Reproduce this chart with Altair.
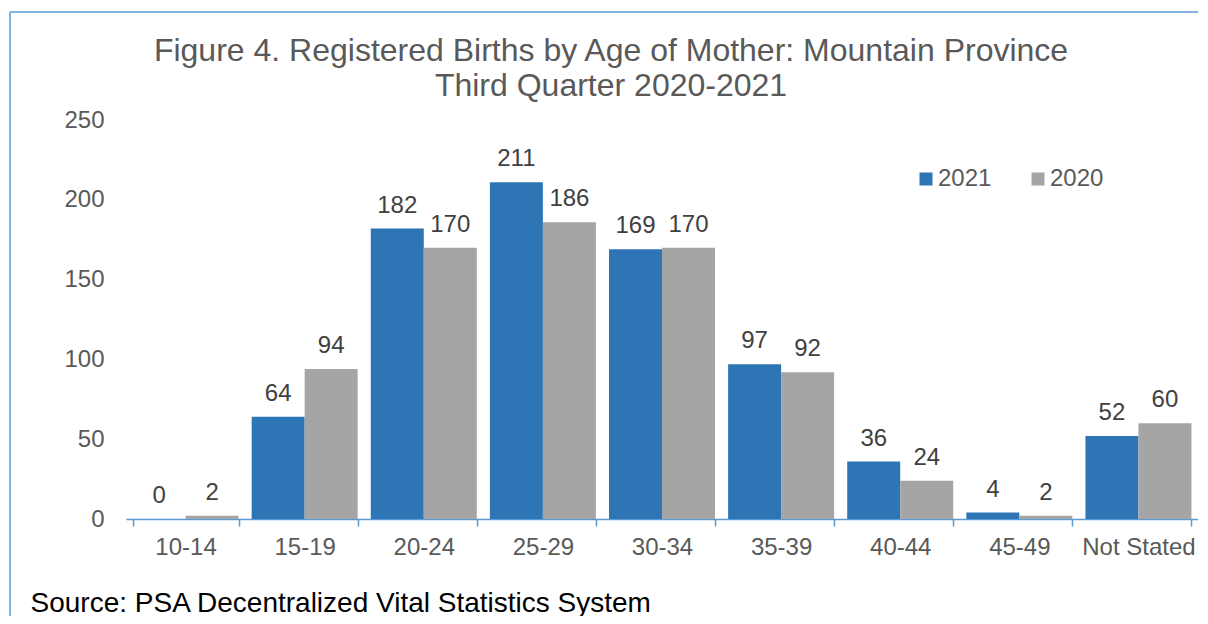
import altair as alt
import pandas as pd

ages = ["10-14", "15-19", "20-24", "25-29", "30-34", "35-39", "40-44", "45-49", "Not Stated"]
births_2021 = [0, 64, 182, 211, 169, 97, 36, 4, 52]
births_2020 = [2, 94, 170, 186, 170, 92, 24, 2, 60]
years = ["2021", "2020"]
colors = ["#2E75B6", "#A5A5A5"]
title_lines = ["Figure 4. Registered Births by Age of Mother: Mountain Province", "Third Quarter 2020-2021"]
source_text = "Source: PSA Decentralized Vital Statistics System"

rows = []
for a, v1, v0 in zip(ages, births_2021, births_2020):
    rows.append({"age": a, "year": "2021", "births": v1})
    rows.append({"age": a, "year": "2020", "births": v0})
df = pd.DataFrame(rows)

FONT = "Liberation Sans"
FRAME = "#5B9BD5"

x = alt.X(
    "age:N",
    sort=ages,
    scale=alt.Scale(paddingInner=0.11, paddingOuter=0.055),
    axis=alt.Axis(
        title=source_text,
        titleX=-96, titleY=92, titleAlign="left", titleBaseline="alphabetic",
        titleFontSize=28, titleColor="#000000", titleFontWeight="normal", titleFont=FONT,
        labelAngle=0, labelFontSize=24, labelColor="#595959", labelFont=FONT,
        labelPadding=9,
        domainColor=FRAME, domainWidth=1.5, tickColor=FRAME, tickWidth=1.5,
        tickSize=7, tickBand="extent",
    ),
)
y = alt.Y(
    "births:Q",
    scale=alt.Scale(domain=[0, 250], nice=False),
    axis=alt.Axis(
        title=None, values=[0, 50, 100, 150, 200, 250], grid=False, domain=False,
        ticks=False, labelFontSize=24, labelColor="#595959", labelFont=FONT,
        labelPadding=22,
    ),
)

base = alt.Chart(df)

bars = base.mark_bar().encode(
    x=x,
    y=y,
    xOffset=alt.XOffset("year:N", sort=years),
    color=alt.Color(
        "year:N", sort=years,
        scale=alt.Scale(domain=years, range=colors),
        legend=alt.Legend(
            title=None, orient="none", legendX=788, legendY=47, direction="horizontal",
            symbolType="square", symbolSize=169, symbolStrokeWidth=0,
            labelFontSize=24, labelColor="#595959", labelFont=FONT, columnPadding=34,
            labelOffset=0, symbolOpacity=1,
        ),
    ),
)

labels = base.mark_text(dy=-16, fontSize=24, color="#404040", font=FONT, baseline="alphabetic").encode(
    x=alt.X("age:N", sort=ages),
    y="births:Q",
    xOffset=alt.XOffset("year:N", sort=years),
    text="births:Q",
)

def title_line(txt, ypos):
    return alt.Chart(alt.Data(values=[{"t": txt}])).mark_text(
        fontSize=32, font=FONT, color="#595959", align="center", baseline="alphabetic"
    ).encode(x=alt.value(485), y=alt.value(ypos), text="t:N")

title1 = title_line(title_lines[0], -59)
title2 = title_line(title_lines[1], -24)

frame_data = alt.Data(values=[{"k": 1}])
top_line = alt.Chart(frame_data).mark_rule(color=FRAME, strokeWidth=1.5).encode(
    x=alt.value(-116), x2=alt.value(1090), y=alt.value(-108)
)
left_line = alt.Chart(frame_data).mark_rule(color=FRAME, strokeWidth=1.5).encode(
    x=alt.value(-116), y=alt.value(-108), y2=alt.value(520)
)

chart = alt.layer(top_line, left_line, bars, labels, title1, title2).properties(
    width=1072,
    height=399,
    padding={"left": 118, "top": 112, "right": 0, "bottom": 97},
    autosize=alt.AutoSizeParams(type="none"),
    background="white",
).configure_view(stroke=None)

chart.save("out.html", embed_options={"renderer": "svg", "actions": False})
